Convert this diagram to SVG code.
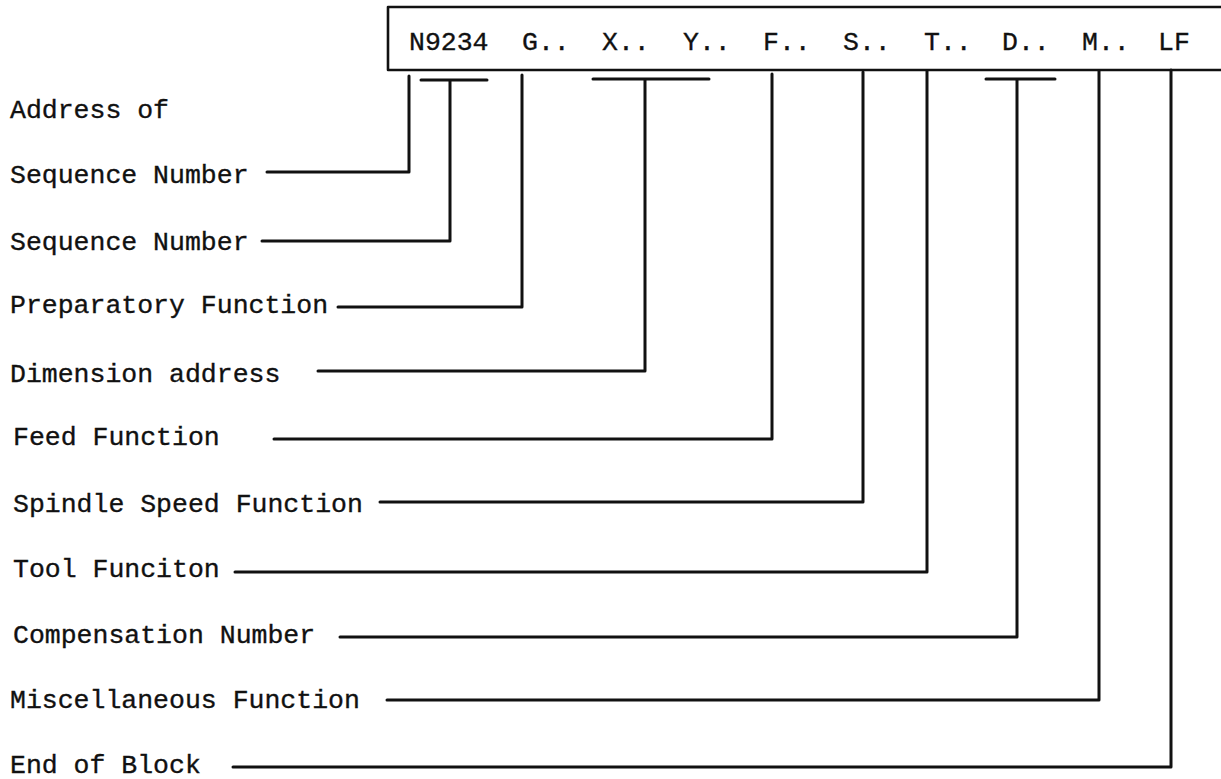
<svg xmlns="http://www.w3.org/2000/svg" width="1221" height="779" viewBox="0 0 1221 779">
<style>
text{font-family:"Liberation Mono","DejaVu Sans Mono",monospace;font-size:26.5px;fill:#111;stroke:#111;stroke-width:0.35}
.ln{fill:none;stroke:#111;stroke-width:3;stroke-linejoin:round;stroke-linecap:round}
.bx{fill:none;stroke:#111;stroke-width:2.6;stroke-linejoin:round}
</style>
<rect width="1221" height="779" fill="#fff"/>
<g id="block">
<path class="bx" d="M1223,7 H388 V70 H1223"/>
<text x="409" y="50">N9234</text>
<text x="522" y="50">G..</text>
<text x="602" y="50">X..</text>
<text x="683" y="50">Y..</text>
<text x="763" y="50">F..</text>
<text x="843" y="50">S..</text>
<text x="924" y="50">T..</text>
<text x="1002" y="50">D..</text>
<text x="1082" y="50">M..</text>
<text x="1158" y="50">LF</text>
</g>
<g id="labels">
<text x="10" y="118">Address of</text>
<text x="10" y="183">Sequence Number</text>
<text x="10" y="250">Sequence Number</text>
<text x="10" y="313">Preparatory Function</text>
<text x="10" y="382">Dimension address</text>
<text x="13" y="445">Feed Function</text>
<text x="13" y="512">Spindle Speed Function</text>
<text x="13" y="577">Tool Funciton</text>
<text x="13" y="643">Compensation Number</text>
<text x="10" y="708">Miscellaneous Function</text>
<text x="10" y="773">End of Block</text>
</g>
<g id="connectors">
<path class="ln" d="M267,172 H409 V76"/>
<path class="ln" d="M262,241 H450 V80 M421,80 H487"/>
<path class="ln" d="M338,307 H522 V75"/>
<path class="ln" d="M318,371 H645 V79 M593,79 H709"/>
<path class="ln" d="M274,439 H772 V74"/>
<path class="ln" d="M380,502 H863 V72"/>
<path class="ln" d="M235,572 H927 V71"/>
<path class="ln" d="M340,637 H1017 V79 M986,79 H1055"/>
<path class="ln" d="M387,700 H1099 V71"/>
<path class="ln" d="M233,767 H1171 V70"/>
</g>
</svg>
